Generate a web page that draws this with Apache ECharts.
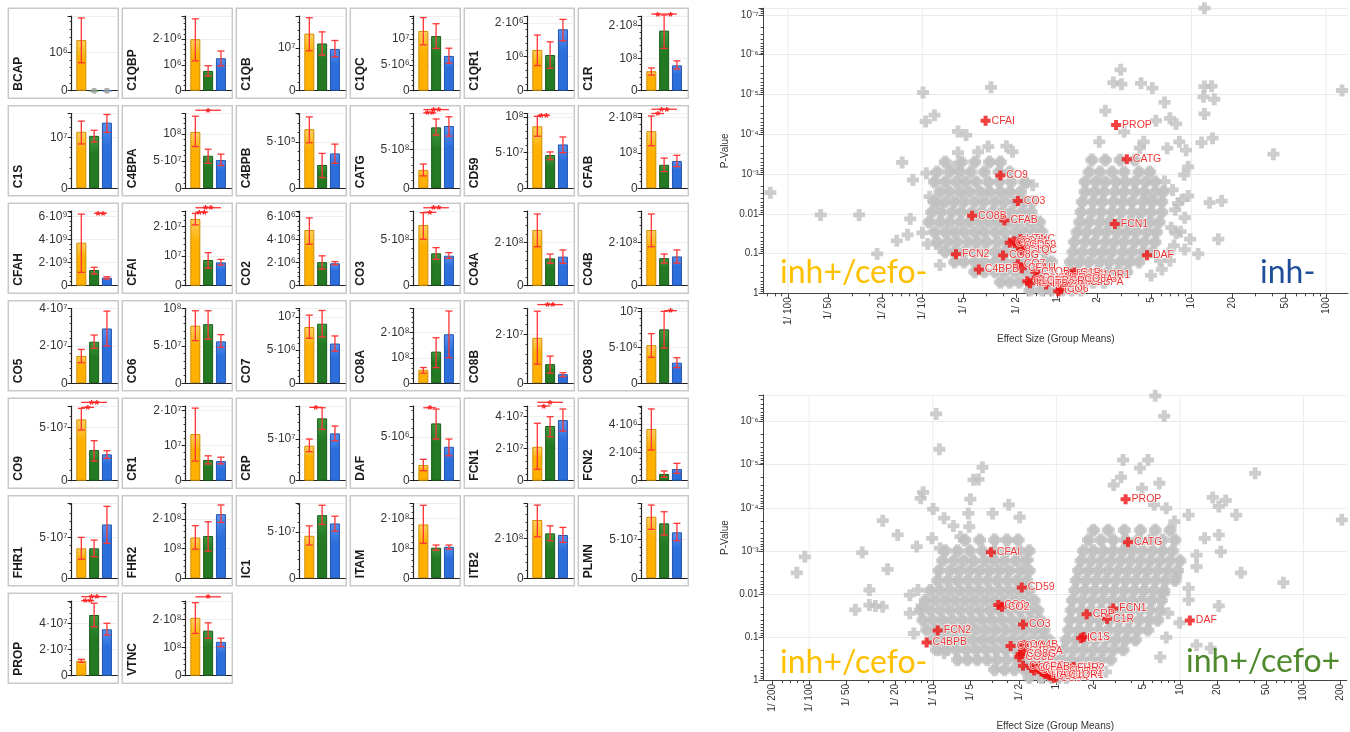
<!DOCTYPE html>
<html><head><meta charset="utf-8">
<script src="https://cdn.jsdelivr.net/npm/echarts@6/dist/echarts.min.js"></script>
<style>html,body{margin:0;padding:0;background:#fff}#c{width:1350px;height:732px}</style>
</head><body><div id="c"></div>
<script>
// ---------------- bar panel data ----------------
const proteins = ['BCAP','C1QBP','C1QB','C1QC','C1QR1','C1R','C1S','C4BPA','C4BPB','CATG','CD59','CFAB','CFAH','CFAI','CO2','CO3','CO4A','CO4B','CO5','CO6','CO7','CO8A','CO8B','CO8G','CO9','CR1','CRP','DAF','FCN1','FCN2','FHR1','FHR2','IC1','ITAM','ITB2','PLMN','PROP','VTNC'];
// group order: inh+/cefo- (orange), inh+/cefo+ (green), inh- (blue)
const groupMeans = [
[1.32e6,0,0],[2.0e6,0.77e6,1.26e6],[1.33e7,1.10e7,0.97e7],[1.16e7,1.06e7,0.675e7],[1.20e6,1.05e6,1.81e6],[0.60e8,1.85e8,0.78e8],
[1.11e7,1.03e7,1.29e7],[1.04e8,0.60e8,0.52e8],[6.36e5,2.5e5,3.75e5],[2.35e8,7.82e8,7.99e8],[0.87e8,0.466e8,0.615e8],[1.61e8,0.66e8,0.77e8],
[3.74e9,1.37e9,0.70e9],[2.26e7,0.87e7,0.79e7],[4.85e6,2.05e6,1.95e6],[6.54e8,3.49e8,3.23e8],[2.59e8,1.27e8,1.35e8],[2.59e8,1.28e8,1.36e8],
[1.46e7,2.22e7,2.93e7],[0.77e8,0.79e8,0.56e8],[0.85e7,0.90e7,0.60e7],[0.53e8,1.25e8,1.94e8],[1.86e7,0.78e7,0.37e7],[0.53e7,0.75e7,0.286e7],
[5.75e7,2.87e7,2.47e7],[1.33e7,0.59e7,0.56e7],[4.2e7,7.48e7,5.68e7],[1.78e6,6.52e6,3.86e6],[2.12e7,3.42e7,3.79e7],[3.67e6,0.48e6,0.83e6],
[3.66e7,3.66e7,6.58e7],[1.38e8,1.43e8,2.17e8],[4.57e7,6.79e7,5.9e7],[1.8e8,1.02e8,1.05e8],[2.92e8,2.25e8,2.17e8],[7.9e7,7.05e7,5.9e7],
[1.15e7,4.63e7,3.54e7],[2.07e8,1.61e8,1.21e8]];
const errLow = [
[0.73e6,null,null],[1.16e6,0.57e6,0.96e6],[0.93e7,0.83e7,0.79e7],[0.89e7,0.82e7,0.53e7],[0.74e6,0.66e6,1.47e6],[0.48e8,1.30e8,0.67e8],
[0.87e7,0.91e7,1.10e7],[0.77e8,0.46e8,0.42e8],[4.9e5,1.14e5,2.68e5],[1.58e8,6.83e8,6.7e8],[0.73e8,0.40e8,0.50e8],[1.2e8,0.47e8,0.61e8],
[1.16e9,1.02e9,0.58e9],[2.06e7,0.59e7,0.70e7],[3.6e6,1.45e6,1.82e6],[5.0e8,2.85e8,2.95e8],[1.81e8,1.04e8,1.04e8],[1.81e8,1.05e8,1.05e8],
[1.1e7,1.87e7,1.99e7],[0.57e8,0.59e8,0.48e8],[0.68e7,0.70e7,0.485e7],[0.40e8,0.62e8,1.01e8],[0.78e7,0.41e7,0.27e7],[0.36e7,0.49e7,0.217e7],
[4.75e7,1.84e7,2.1e7],[0.56e7,0.48e7,0.48e7],[3.48e7,6.16e7,4.8e7],[1.14e6,4.74e6,2.84e6],[0.71e7,2.75e7,3.1e7],[2.18e6,0.24e6,0.52e6],
[2.32e7,2.63e7,4.27e7],[0.98e8,0.92e8,1.89e8],[3.57e7,5.79e7,5.07e7],[1.17e8,0.94e8,0.97e8],[2.08e8,1.88e8,1.8e8],[6.28e7,5.55e7,4.82e7],
[1.02e7,3.74e7,3.11e7],[1.51e8,1.34e8,1.04e8]];
const errHigh = [
[1.9e6,null,null],[2.79e6,0.97e6,1.54e6],[1.70e7,1.37e7,1.17e7],[1.42e7,1.30e7,0.825e7],[1.64e6,1.44e6,2.1e6],[0.70e8,2.33e8,0.92e8],
[1.32e7,1.14e7,1.45e7],[1.33e8,0.72e8,0.63e8],[7.68e5,3.75e5,4.75e5],[3.1e8,8.9e8,9.18e8],[1.01e8,0.51e8,0.72e8],[2.04e8,0.85e8,0.93e8],
[6.23e9,1.6e9,0.78e9],[2.45e7,1.12e7,0.89e7],[5.9e6,2.6e6,2.1e6],[7.87e8,4.1e8,3.56e8],[3.33e8,1.47e8,1.66e8],[3.33e8,1.47e8,1.66e8],
[1.81e7,2.58e7,3.86e7],[0.97e8,0.97e8,0.65e8],[1.03e7,1.10e7,0.715e7],[0.62e8,1.8e8,2.86e8],[2.95e7,1.11e7,0.43e7],[0.69e7,1.0e7,0.355e7],
[6.78e7,3.75e7,2.81e7],[2.07e7,0.71e7,0.67e7],[5.0e7,8.75e7,6.56e7],[2.43e6,8.15e6,4.74e6],[3.59e7,4.0e7,4.48e7],[5.09e6,0.69e6,1.23e6],
[5.0e7,4.67e7,8.8e7],[1.78e8,1.91e8,2.48e8],[5.64e7,7.86e7,6.68e7],[2.44e8,1.11e8,1.11e8],[3.67e8,2.63e8,2.55e8],[9.4e7,8.54e7,7.05e7],
[1.25e7,5.53e7,4.0e7],[2.61e8,1.89e8,1.34e8]];
const axisTop = [1.95e6,2.9e6,1.74e7,1.45e7,2.2e6,2.3e8,1.47e7,1.38e8,8.05e5,9.6e8,1.05e8,2.11e8,6.5e9,2.53e7,6.5e6,8.05e8,3.47e8,3.47e8,4e7,1e8,1.13e7,2.96e8,3.06e7,1.04e7,7.0e7,2.13e7,8.96e7,8.5e6,4.67e7,5.3e6,9.15e7,2.53e8,8.05e7,2.5e8,3.75e8,9.6e7,5.7e7,2.67e8];
const tickStep = [1e6,1e6,1e7,5e6,1e6,1e8,1e7,5e7,5e5,5e8,5e7,1e8,2e9,1e7,2e6,5e8,2e8,2e8,2e7,5e7,5e6,1e8,2e7,5e6,5e7,1e7,5e7,5e6,2e7,2e6,5e7,1e8,5e7,1e8,2e8,5e7,2e7,1e8];
// [panel, fromGroup, toGroup, height, stars]
const significance = [
[5,0,1,2.36e8,'*'],[5,1,2,2.36e8,'*'],[7,0,2,1.44e8,'*'],[9,0,1,9.69e8,'**'],[9,0,2,10.1e8,'**'],[10,0,1,1.025e8,'**'],
[11,0,1,2.11e8,'*'],[11,0,2,2.23e8,'**'],[12,1,2,6.3e9,'**'],[13,0,1,2.49e7,'**'],[13,0,2,2.64e7,'**'],[15,0,1,7.91e8,'*'],[15,0,2,8.4e8,'**'],
[22,0,2,3.22e7,'**'],[23,1,2,1.01e7,'*'],[24,0,1,6.87e7,'*'],[24,0,2,7.34e7,'**'],[26,0,1,8.8e7,'*'],[27,0,1,8.3e6,'*'],
[28,0,1,4.67e7,'*'],[28,0,2,4.9e7,'*'],[36,0,1,5.73e7,'**'],[36,0,2,6.03e7,'**'],[37,0,2,2.82e8,'*']];

// ---------------- volcano data: [log10 effect size, -log10 p] ----------------
const topXLabels = [1/100,1/50,1/20,1/10,1/5,1/2,1,2,5,10,20,50,100];
const bottomXLabels = [1/200,1/100,1/50,1/20,1/10,1/5,1/2,1,2,5,10,20,50,100,200];
const topGrayRows = [
[3.30,[-0.83,-0.71,-0.61,-0.50,-0.42]],
[3.05,[-0.89,-0.80,-0.72,-0.64,-0.54,-0.43,-0.35, 0.24,0.32,0.41,0.50,0.61,0.69]],
[2.80,[-0.91,-0.83,-0.75,-0.68,-0.60,-0.51,-0.43,-0.34,-0.24, 0.21,0.29,0.36,0.44,0.51,0.58,0.66,0.73]],
[2.55,[-0.87,-0.80,-0.72,-0.65,-0.57,-0.50,-0.42,-0.35,-0.27, 0.21,0.28,0.35,0.43,0.50,0.58,0.65,0.73,0.79]],
[2.30,[-0.91,-0.83,-0.76,-0.69,-0.61,-0.54,-0.46,-0.39,-0.31,-0.24,-0.18, 0.19,0.27,0.34,0.42,0.49,0.56,0.64,0.71,0.78]],
[2.04,[-0.93,-0.86,-0.78,-0.71,-0.63,-0.56,-0.48,-0.41,-0.34,-0.26,-0.19, 0.18,0.26,0.33,0.41,0.48,0.56,0.63,0.70,0.78]],
[1.79,[-0.95,-0.87,-0.80,-0.72,-0.65,-0.57,-0.50,-0.43,-0.35,-0.28,-0.20,-0.13, 0.17,0.24,0.32,0.39,0.47,0.54,0.61,0.69,0.76]],
[1.54,[-0.91,-0.83,-0.76,-0.69,-0.61,-0.54,-0.46,-0.39,-0.31,-0.24,-0.17,-0.11, 0.15,0.22,0.30,0.37,0.45,0.52,0.59,0.67,0.74]],
[1.29,[-0.89,-0.81,-0.74,-0.66,-0.59,-0.52,-0.44,-0.37,-0.29,-0.22,-0.14,-0.08, 0.13,0.21,0.28,0.36,0.43,0.50,0.58,0.65,0.73]],
[1.04,[-0.83,-0.76,-0.69,-0.61,-0.54,-0.46,-0.39,-0.31,-0.24,-0.17,-0.09, 0.12,0.19,0.27,0.34,0.41,0.49,0.56,0.64,0.71]],
[0.79,[-0.76,-0.69,-0.61,-0.54,-0.46,-0.39,-0.31,-0.24,-0.17,-0.09,-0.04, 0.10,0.17,0.24,0.32,0.39,0.47,0.54,0.61]],
[0.54,[-0.61,-0.54,-0.46,-0.39,-0.31,-0.24,-0.17,-0.09,-0.04, 0.08,0.15,0.23,0.30,0.38,0.45,0.52]],
[0.28,[-0.42,-0.35,-0.28,-0.20,-0.13,-0.07,-0.02, 0.05,0.12,0.20,0.27,0.35]],
[0.08,[-0.20,-0.11,-0.04, 0.04,0.11,0.18]],
[3.35,[0.26,0.36,0.47,0.58]]];
const topGrayOutliers = [
[-2.13,2.53],[-1.756,1.97],[-1.47,1.97],[-1.336,0.99],[-1.19,1.32],[-1.15,3.29],[-1.11,1.47],[-1.09,1.87],[-1.07,2.85],[-0.995,5.05],[-0.975,4.32],[-0.91,4.48],[-1.0,1.52],[-0.97,3.02],[-0.96,1.24],[-0.87,1.14],[-0.735,4.07],[-0.675,3.98],[-0.49,5.18],[-0.735,3.54],[-0.585,3.56],[-0.51,3.69],[-0.375,3.70],[-0.33,3.56],[-0.766,3.18],[-0.225,2.78],[-0.18,2.72],[-0.87,0.71],[-0.946,2.43],[-0.886,2.26],
[0.474,5.62],[0.42,5.30],[0.48,5.26],[0.625,5.28],[0.71,5.16],[0.80,4.80],[0.36,4.59],[0.736,4.34],[0.84,4.40],[0.886,4.26],[0.50,4.06],[0.315,3.81],[0.645,3.81],[0.91,3.81],[0.96,3.60],[0.82,3.65],[1.097,5.20],[1.15,5.21],[1.09,4.94],[1.17,4.88],[1.097,4.51],[1.075,3.79],[1.157,3.90],[1.097,7.17],[1.61,3.50],[2.12,5.10],[0.976,3.18],[0.946,2.98],[1.135,2.28],[1.225,2.32],[1.05,0.99],[1.20,1.36],[0.84,0.82],[0.766,0.82],[0.886,1.51],[0.99,1.36],[0.976,2.45],[0.90,2.26],[0.616,3.65],
[0.86,2.60],[0.93,2.35],[0.88,2.10],[0.95,1.90],[0.85,1.65],[0.92,1.55],[0.87,1.20],[0.95,1.10],[0.83,1.00],[0.78,0.60],[0.70,0.45],[0.80,2.81],[0.675,2.43]];
const topRedNames = ['CFAI','PROP','CATG','CO9','CO3','CO8B','CFAB','FCN1','VTNC','CO4A','CO4B','CO2','CD59','C1QC','FCN2','CO8G','DAF','CO7','CFAH','C1QB','C4BPB','FHR2','C1QR1','IC1','C1R','PLMN','ITAM','FHR1','C4BPA','CO5','CO6','C1S','C1QBP','CR1','CRP','ITB2','CO8A'];
const topRedPoints = [[-0.53,4.34],[0.44,4.23],[0.52,3.37],[-0.42,2.96],[-0.29,2.32],[-0.63,1.95],[-0.39,1.83],[0.43,1.74],[-0.27,1.36],[-0.32,1.31],[-0.35,1.27],[-0.29,1.19],[-0.25,1.21],[-0.26,1.08],[-0.75,0.98],[-0.40,0.95],[0.67,0.96],[-0.29,0.73],[-0.26,0.63],[-0.16,0.54],[-0.58,0.60],[0.10,0.49],[0.24,0.45],[0.11,0.42],[0.13,0.52],[-0.15,0.39],[-0.20,0.25],[0.08,0.27],[0.20,0.27],[0.01,0.05],[0.03,0.10],[-0.12,0.33],[-0.22,0.30],[0.06,0.38],[0.05,0.30],[-0.08,0.22],[0.16,0.35]];

const bottomGrayRows = [
[3.25,[-0.74,-0.62,-0.50,-0.40,-0.31, 0.26,0.36,0.46,0.56,0.66,0.76,0.86,0.96]],
[3.00,[-0.90,-0.80,-0.70,-0.60,-0.50,-0.40,-0.30,-0.22, 0.22,0.30,0.38,0.46,0.54,0.62,0.70,0.78,0.86,0.94]],
[2.77,[-0.92,-0.83,-0.75,-0.67,-0.58,-0.50,-0.42,-0.33,-0.25, 0.20,0.28,0.36,0.44,0.52,0.60,0.68,0.76,0.84,0.92,1.00]],
[2.54,[-0.95,-0.86,-0.78,-0.70,-0.62,-0.54,-0.46,-0.38,-0.29,-0.22, 0.18,0.26,0.34,0.42,0.50,0.58,0.66,0.74,0.82,0.90,0.98]],
[2.31,[-0.96,-0.88,-0.80,-0.72,-0.64,-0.56,-0.48,-0.40,-0.32,-0.24, 0.16,0.24,0.32,0.40,0.48,0.56,0.64,0.72,0.80,0.88,0.96]],
[2.08,[-1.02,-0.94,-0.86,-0.78,-0.70,-0.62,-0.54,-0.46,-0.38,-0.30,-0.22, 0.15,0.23,0.31,0.39,0.47,0.55,0.63,0.71,0.79,0.87]],
[1.85,[-1.06,-0.98,-0.90,-0.82,-0.74,-0.66,-0.58,-0.50,-0.42,-0.34,-0.26,-0.18, 0.13,0.21,0.29,0.37,0.45,0.53,0.61,0.69,0.77,0.85]],
[1.62,[-1.10,-1.02,-0.94,-0.86,-0.78,-0.70,-0.62,-0.54,-0.46,-0.38,-0.30,-0.22,-0.15, 0.12,0.20,0.28,0.36,0.44,0.52,0.60,0.68,0.76,0.84]],
[1.39,[-1.08,-1.00,-0.92,-0.84,-0.76,-0.68,-0.60,-0.52,-0.44,-0.36,-0.28,-0.20,-0.13, 0.11,0.19,0.27,0.35,0.43,0.51,0.59,0.67,0.75,0.82]],
[1.16,[-1.05,-0.97,-0.89,-0.81,-0.73,-0.65,-0.57,-0.49,-0.41,-0.33,-0.25,-0.17,-0.10, 0.10,0.18,0.26,0.34,0.42,0.50,0.58,0.66,0.74]],
[0.93,[-1.00,-0.92,-0.84,-0.76,-0.68,-0.60,-0.52,-0.44,-0.36,-0.28,-0.20,-0.12,-0.06, 0.08,0.16,0.24,0.32,0.40,0.48,0.56,0.64]],
[0.70,[-0.97,-0.89,-0.81,-0.73,-0.65,-0.57,-0.49,-0.41,-0.33,-0.25,-0.17,-0.09,-0.04, 0.06,0.14,0.22,0.30,0.38,0.46,0.54]],
[0.47,[-0.80,-0.72,-0.64,-0.56,-0.48,-0.40,-0.32,-0.24,-0.16,-0.08,-0.02, 0.04,0.12,0.20,0.28,0.36,0.44]],
[0.24,[-0.50,-0.42,-0.34,-0.26,-0.18,-0.10,-0.03, 0.02,0.09,0.16,0.24]],
[0.06,[-0.22,-0.12,-0.04, 0.02,0.08]],
[3.48,[0.30,0.42,0.55,0.68,0.80,0.92]]];
const bottomGrayOutliers = [
[-2.10,2.49],[-2.035,2.86],[-1.627,1.63],[-1.571,2.96],[-1.513,2.09],[-1.513,1.74],[-1.464,1.72],[-1.405,1.70],[-1.405,3.70],[-1.366,2.57],[-1.284,3.37],[-1.13,3.10],[-1.098,4.22],[-1.078,4.36],[-0.973,6.18],[-0.947,5.36],[-0.997,3.97],[-1.006,3.29],[-0.941,3.06],[-0.909,3.76],[-0.696,4.20],[-0.670,4.65],[-0.630,4.66],[-0.598,4.94],[-0.712,3.87],[-0.385,4.07],[-0.297,3.78],[-0.516,3.87],[-0.833,3.58],[-0.777,3.33],[-0.705,3.56],[-0.231,2.79],[-1.12,2.09],[-1.09,1.72],[-1.186,1.55],[-1.153,1.08],[-0.909,0.62],[-1.186,1.97],
[0.80,6.60],[0.873,6.13],[0.54,5.11],[0.742,5.11],[0.676,4.92],[0.523,4.71],[0.464,4.53],[0.833,4.57],[0.693,4.45],[0.791,4.07],[0.889,3.99],[0.955,3.68],[1.069,3.83],[1.265,4.24],[1.314,4.03],[1.37,4.17],[1.455,3.83],[1.608,4.80],[2.31,3.72],[1.494,2.49],[1.837,2.26],[1.314,3.37],[1.20,3.29],[1.134,2.90],[1.33,2.98],[1.314,1.72],[1.134,0.81],[1.248,0.74],[0.997,1.33],[0.84,0.53],[0.889,0.99],[1.069,2.13],[0.97,2.40],[0.40,0.19],[1.134,2.63],[1.069,1.86],[0.905,1.55],[0.87,2.00]];
const bottomRedNames = ['PROP','CATG','CFAI','CD59','CO9','CO2','CRP','FCN1','C1R','DAF','CO3','FCN2','C4BPB','IC1','C1S','CO4B','CO4A','C4BPA','CO8B','CO8G','C1QBP','VTNC','CR1','PLMN','ITB2','CFAH','CO7','C1QB','C1QC','CO5','CO6','CO8A','FHR1','FHR2','ITAM','C1QR1','CFAB'];
const bottomRedPoints = [[0.56,4.20],[0.58,3.20],[-0.53,2.97],[-0.28,2.15],[-0.47,1.74],[-0.44,1.70],[0.245,1.53],[0.46,1.66],[0.41,1.42],[1.08,1.38],[-0.27,1.29],[-0.96,1.15],[-1.05,0.87],[0.20,0.97],[0.22,1.0],[-0.265,0.81],[-0.37,0.79],[-0.27,0.68],[-0.30,0.53],[-0.29,0.60],[-0.27,0.33],[-0.14,0.25],[0.14,0.30],[-0.06,0.12],[0.15,0.16],[-0.18,0.22],[-0.20,0.28],[-0.10,0.18],[-0.12,0.20],[-0.02,0.05],[0.0,0.08],[-0.05,0.10],[0.10,0.20],[0.12,0.28],[-0.09,0.14],[0.05,0.12],[-0.16,0.30]];

// ---------------- helpers ----------------
const FONT = '"Liberation Sans", Arial, sans-serif';
const SUP = {'0':'⁰','1':'¹','2':'²','3':'³','4':'⁴','5':'⁵','6':'⁶','7':'⁷','8':'⁸','9':'⁹','-':'⁻'};
const sup = n => String(n).split('').map(c => SUP[c]).join('');
function sciLabel(v, step) {
  if (Math.abs(v) < 1e-12) return '0';
  const k = v / step;
  if (Math.abs(k - Math.round(k)) > 1e-6) return '';
  const e = Math.floor(Math.log10(v) + 1e-9);
  const m = Math.round(v / Math.pow(10, e));
  return (m === 1 ? '' : m + '·') + '10' + sup(e);
}
function pLabel(v) {
  if (Math.abs(v - Math.round(v)) > 1e-6) return '';
  const n = Math.round(v);
  if (n === 0) return '1';
  if (n === 1) return '0.1';
  if (n === 2) return '0.01';
  return '10' + sup(-n);
}
function foldLabel(v) {
  const f = Math.pow(10, v);
  return f >= 0.999 ? String(Math.round(f)) : '1/ ' + Math.round(1 / f);
}
const barTops = ['#ffd060', '#3f9a3f', '#5a92ee'];
const barColors = ['#ffb000', '#237a23', '#2c6fdc'];
const barBorders = ['#d08f00', '#185c18', '#2156b0'];
const PLUS = 'path://M3,0H7V3H10V7H7V10H3V7H0V3H3Z';
const grad = k => ({type: 'linear', x: 0, y: 0, x2: 0, y2: 1,
  colorStops: [{offset: 0, color: barTops[k]}, {offset: 0.35, color: barColors[k]}, {offset: 1, color: barColors[k]}]});

const option = {animation: false, textStyle: {fontFamily: FONT}, grid: [], xAxis: [], yAxis: [], series: [], graphic: []};

// ---------------- bar panels ----------------
proteins.forEach((name, i) => {
  const col = i % 6, row = Math.floor(i / 6);
  const bx = 8.3 + 114 * col, by = 8.3 + 97.5 * row;
  option.graphic.push({type: 'rect', silent: true, shape: {x: bx, y: by, width: 110, height: 90},
    style: {fill: 'none', stroke: '#c9c9c9', lineWidth: 1.5}});
  option.graphic.push({type: 'text', silent: true, x: bx + 10, y: by + 82.4, rotation: Math.PI / 2,
    style: {text: name, font: 'bold 12px ' + FONT, fill: '#1a1a1a', textAlign: 'left', align: 'left', textVerticalAlign: 'middle', verticalAlign: 'middle'}});
  option.grid.push({left: bx + 63.3, top: by + 7.7, width: 45.7, height: 74.7});
  option.xAxis.push({gridIndex: i, type: 'value', min: -0.76, max: 2.81,
    axisLine: {show: true, onZero: false, lineStyle: {color: '#222', width: 1.2}},
    axisTick: {show: false}, axisLabel: {show: false}, splitLine: {show: false}});
  option.yAxis.push({gridIndex: i, type: 'value', min: 0, max: axisTop[i], interval: tickStep[i],
    axisLine: {show: true, onZero: false, lineStyle: {color: '#222', width: 1.2}},
    axisTick: {show: true, length: 4, lineStyle: {color: '#222'}},
    minorTick: {show: true, splitNumber: 5, length: 2, lineStyle: {color: '#333'}},
    axisLabel: {fontSize: 12, color: '#333', margin: 4, formatter: v => sciLabel(v, tickStep[i])},
    splitLine: {show: true, lineStyle: {color: '#efefef'}}});
  option.series.push({type: 'bar', xAxisIndex: i, yAxisIndex: i, barWidth: 10, silent: true,
    data: [0, 1, 2].map(k => ({value: [k, groupMeans[i][k]],
      itemStyle: {color: grad(k), borderColor: barBorders[k], borderWidth: 1}}))});
  const errs = [0, 1, 2].filter(k => errLow[i][k] != null).map(k => [k, errLow[i][k], errHigh[i][k]]);
  option.series.push({type: 'custom', xAxisIndex: i, yAxisIndex: i, clip: false, silent: true, z: 4, data: errs,
    renderItem: (p, api) => {
      const a = api.coord([api.value(0), api.value(1)]), b = api.coord([api.value(0), api.value(2)]);
      const st = {stroke: '#ff3535', lineWidth: 1.3};
      return {type: 'group', children: [
        {type: 'line', shape: {x1: a[0], y1: a[1], x2: b[0], y2: b[1]}, style: st},
        {type: 'line', shape: {x1: a[0] - 3.5, y1: a[1], x2: a[0] + 3.5, y2: a[1]}, style: st},
        {type: 'line', shape: {x1: b[0] - 3.5, y1: b[1], x2: b[0] + 3.5, y2: b[1]}, style: st}]};
    }});
  const zeros = [0, 1, 2].filter(k => groupMeans[i][k] === 0).map(k => [k, 0]);
  if (zeros.length) option.series.push({type: 'scatter', xAxisIndex: i, yAxisIndex: i, silent: true, z: 5,
    symbol: 'circle', symbolSize: 6, itemStyle: {color: '#9a9a9a'}, data: zeros});
  const sigs = significance.filter(s => s[0] === i);
  if (sigs.length) option.series.push({type: 'custom', xAxisIndex: i, yAxisIndex: i, clip: false, silent: true, z: 6,
    data: sigs.map(s => [s[1], s[2], s[3]]),
    renderItem: (p, api) => {
      const s = sigs[p.dataIndex];
      const a = api.coord([s[1], s[3]]), b = api.coord([s[2], s[3]]);
      return {type: 'group', children: [
        {type: 'line', shape: {x1: a[0], y1: a[1], x2: b[0], y2: b[1]}, style: {stroke: '#ff3030', lineWidth: 1.3}},
        {type: 'text', x: (a[0] + b[0]) / 2, y: a[1] + 3,
          style: {text: s[4], font: 'bold 13px ' + FONT, fill: '#ff2020', textAlign: 'center', align: 'center', textVerticalAlign: 'middle', verticalAlign: 'middle'}}]};
    }});
});

// ---------------- volcano plots ----------------
function minorX(lo, hi) {
  const out = [];
  for (let d = -3; d <= 2; d++) for (let m = 2; m <= 9; m++) {
    const v = d + Math.log10(m);
    if (v > lo && v < hi) out.push(v);
  }
  return out;
}
function minorY(hi) {
  const out = [];
  for (let n = 1; n <= 8; n++) for (let m = 2; m <= 9; m++) {
    const v = n - Math.log10(m);
    if (v < hi) out.push(v);
  }
  return out;
}
function flatten(rows) {
  const out = [];
  rows.forEach(r => r[1].forEach(x => out.push([x, r[0]])));
  return out;
}
const volcanoes = [
  {grid: {left: 763.6, top: 8.2, width: 584.4, height: 285.1}, xmin: -2.18, xmax: 2.164, ymax: 7.17,
   labels: topXLabels, blob: flatten(topGrayRows), gray: topGrayOutliers, names: topRedNames, red: topRedPoints, nameGap: 41},
  {grid: {left: 763.6, top: 395, width: 583.2, height: 285}, xmin: -2.369, xmax: 2.35, ymax: 6.62,
   labels: bottomXLabels, blob: flatten(bottomGrayRows), gray: bottomGrayOutliers, names: bottomRedNames, red: bottomRedPoints, nameGap: 41}
];
const decades = [-2, -1, 0, 1, 2];
volcanoes.forEach((v, j) => {
  const gi = option.grid.length;
  option.grid.push(v.grid);
  const xi = option.xAxis.length, yi = option.yAxis.length;
  const xLog = v.labels.map(f => Math.log10(f));
  option.xAxis.push({gridIndex: gi, type: 'value', position: 'bottom', min: v.xmin, max: v.xmax,
    axisLine: {show: true, onZero: false, lineStyle: {color: '#444'}},
    axisTick: {show: true, length: 5, customValues: xLog, lineStyle: {color: '#444'}},
    axisLabel: {show: true, rotate: 90, fontSize: 10, color: '#333', margin: 4, customValues: xLog, formatter: foldLabel},
    splitLine: {show: false},
    name: 'Effect Size (Group Means)', nameLocation: 'middle', nameGap: v.nameGap, nameTextStyle: {fontSize: 10, color: '#333'}});
  option.xAxis.push({gridIndex: gi, type: 'value', position: 'bottom', min: v.xmin, max: v.xmax,
    axisLine: {show: false, onZero: false}, axisLabel: {show: false}, splitLine: {show: false},
    axisTick: {show: true, length: 3, customValues: minorX(v.xmin, v.xmax), lineStyle: {color: '#444'}}});
  option.yAxis.push({gridIndex: gi, type: 'value', position: 'left', min: 0, max: v.ymax, interval: 1,
    axisLine: {show: true, onZero: false, lineStyle: {color: '#444'}},
    axisTick: {show: true, length: 5, lineStyle: {color: '#444'}},
    axisLabel: {fontSize: 10, color: '#333', margin: 5, formatter: pLabel},
    splitLine: {show: true, lineStyle: {color: '#ebebeb'}},
    name: 'P-Value', nameLocation: 'middle', nameGap: 33, nameTextStyle: {fontSize: 10, color: '#333'}});
  option.yAxis.push({gridIndex: gi, type: 'value', position: 'left', min: 0, max: v.ymax,
    axisLine: {show: false, onZero: false}, axisLabel: {show: false}, splitLine: {show: false},
    axisTick: {show: true, length: 3, customValues: minorY(v.ymax), lineStyle: {color: '#444'}}});
  option.series.push({type: 'custom', xAxisIndex: xi, yAxisIndex: yi, silent: true, z: 1,
    data: decades.map(d => [d, 0]),
    renderItem: (p, api) => {
      const x = api.coord([api.value(0), 0])[0];
      const cs = p.coordSys;
      return {type: 'line', shape: {x1: x, y1: cs.y, x2: x, y2: cs.y + cs.height}, style: {stroke: '#ececec', lineWidth: 1}};
    }});
  // dense cloud: a square fill beneath the crosses so the overlapping crosses read as one solid mass
  option.series.push({type: 'scatter', xAxisIndex: xi, yAxisIndex: yi, silent: true, z: 2,
    symbol: 'rect', symbolSize: 9, itemStyle: {color: '#c0c0c0'}, data: v.blob});
  option.series.push({type: 'scatter', xAxisIndex: xi, yAxisIndex: yi, silent: true, z: 2,
    symbol: PLUS, symbolSize: 13, itemStyle: {color: '#c0c0c0'}, data: v.blob});
  option.series.push({type: 'scatter', xAxisIndex: xi, yAxisIndex: yi, silent: true, z: 2,
    symbol: PLUS, symbolSize: 12, itemStyle: {color: '#c0c0c0'}, data: v.gray});
  option.series.push({type: 'scatter', xAxisIndex: xi, yAxisIndex: yi, silent: true, z: 3,
    symbol: PLUS, symbolSize: 10, itemStyle: {color: '#f01010'},
    label: {show: true, position: 'right', distance: 1, formatter: '{b}', fontSize: 10.5, color: '#e80000',
      textBorderColor: '#ffffff', textBorderWidth: 1.5},
    data: v.names.map((n, k) => ({name: n, value: v.red[k]}))});
});

// group annotation texts
const annot = [
  ['inh+/cefo-', 780, 273, '#ffc000'], ['inh-', 1260, 273, '#1f4e9a'],
  ['inh+/cefo-', 780, 663, '#ffc000'], ['inh+/cefo+', 1186, 662, '#4f8a2e']];
annot.forEach(a => option.graphic.push({type: 'text', silent: true, x: a[1], y: a[2], z: 100,
  style: {text: a[0], font: '32px Lato, "Open Sans", sans-serif', fill: a[3], textAlign: 'left', align: 'left', textVerticalAlign: 'middle', verticalAlign: 'middle'}}));

const chart = echarts.init(document.getElementById('c'), null, {renderer: 'canvas'});
chart.setOption(option);
</script></body></html>
